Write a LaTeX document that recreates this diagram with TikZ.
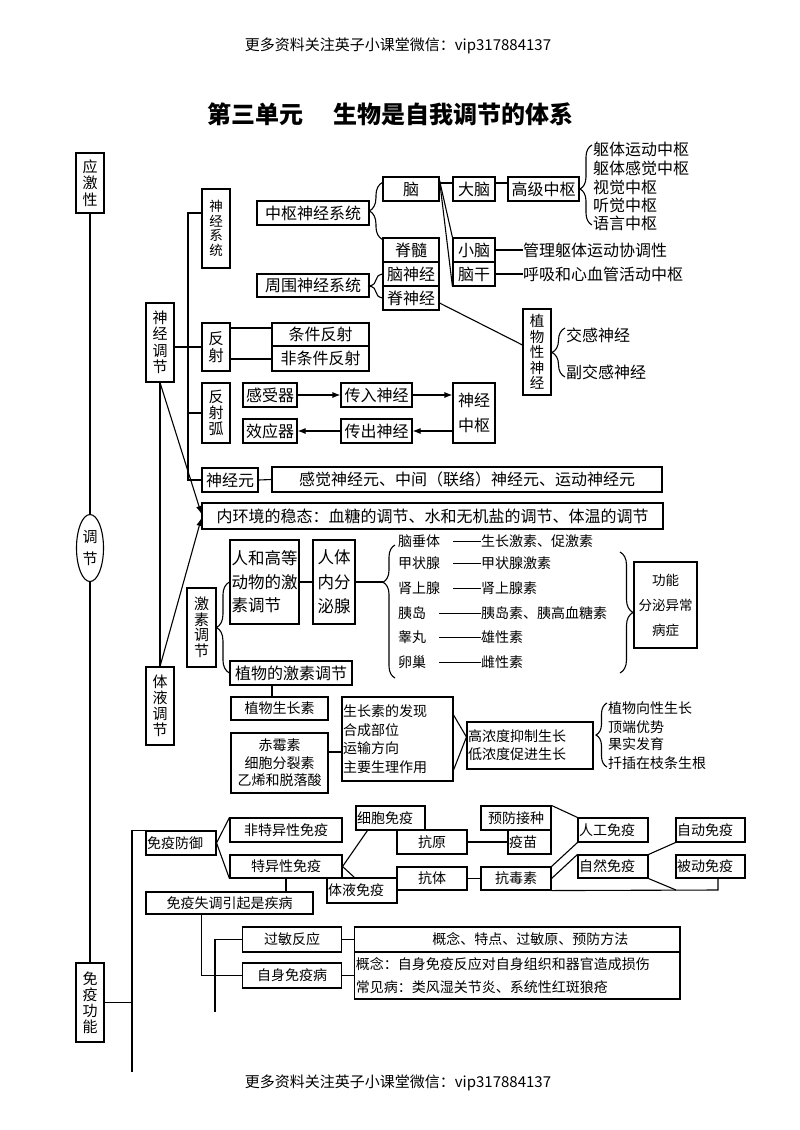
\documentclass[tikz,border=0pt]{standalone}
\usepackage{fontspec}
\setmainfont{Noto Sans CJK SC}
\usetikzlibrary{arrows.meta,decorations.pathreplacing,calc,shapes.geometric}
\newcommand{\myfs}[2]{\fontsize{#1pt}{#2pt}\selectfont}
\begin{document}
\begin{tikzpicture}[x=1pt,y=-1pt,
  box/.style={draw, line width=1.1pt, inner sep=0pt, align=center, font={\myfs{16}{18}}},
  sbox/.style={box, font={\myfs{14}{16}}},
  ln/.style={line width=1.1pt},
  txt/.style={inner sep=0pt, anchor=west, font={\myfs{16}{18}}},
  stxt/.style={inner sep=0pt, anchor=west, font={\myfs{14}{16}}},
  brc/.style={line width=1.1pt, decorate, decoration={brace, amplitude=#1}},
  arr/.style={line width=1.1pt, -{Latex[length=8pt,width=6pt]}},
]
\useasboundingbox (0,0) rectangle (800,1130);

% header / title / footer
\node[font={\myfs{15}{17}}] (hdr) at (398,46) {更多资料关注英子小课堂微信：vip317884137};
\node[font={\myfs{24}{26}\bfseries}] (title) at (390.5,114) {第三单元\hspace{30pt}生物是自我调节的体系};
\node[font={\myfs{15}{17}}] (ftr) at (398,1083) {更多资料关注英子小课堂微信：vip317884137};

% left column
\node[box, minimum width=28pt, minimum height=60pt, font={\myfs{15}{16.5}}] (yjx) at (90,183) {应\\激\\性};
\node[draw, ellipse, line width=1.1pt, minimum width=27pt, minimum height=67pt, inner sep=0pt, align=center, font={\myfs{15}{22}}] (tj) at (90,548) {调\\节};
\node[box, minimum width=28pt, minimum height=79pt, font={\myfs{15}{16}}] (myg) at (90,1002.5) {免\\疫\\功\\能};
\draw[ln] (yjx.south) -- (tj.north);
\draw[ln] (tj.south) -- (myg.north);

% nerve regulation
\node[box, minimum width=28pt, minimum height=79pt, font={\myfs{15}{16.5}}] (sjtj) at (160,342.5) {神\\经\\调\\节};
\node[box, minimum width=28pt, minimum height=78pt, font={\myfs{15}{16}}] (tytj) at (160,706) {体\\液\\调\\节};
\node[box, minimum width=28pt, minimum height=79pt, font={\myfs{13.5}{14.5}}] (sjxt) at (216,228.5) {神\\经\\系\\统};
\node[box, minimum width=28pt, minimum height=48pt, font={\myfs{15.5}{17}}] (fs) at (216,347) {反\\射};
\node[box, minimum width=28pt, minimum height=60pt, font={\myfs{15}{16}}] (fsh) at (216,413) {反\\射\\弧};
\node[box, minimum width=56pt, minimum height=24pt] (sjy) at (230,480) {神经元};
\node[box, minimum width=390pt, minimum height=25pt] (sjynr) at (467,479.5) {感觉神经元、中间（联络）神经元、运动神经元};
\node[box, minimum width=461pt, minimum height=26pt] (nhj) at (432.5,516) {内环境的稳态：血糖的调节、水和无机盐的调节、体温的调节};

\coordinate (tt) at (188,213);
\coordinate (tb) at (188,480);
\draw[ln] (tt -| sjxt.west) -- (tt) -- (tb) -- (sjy.west);
\draw[ln] (tt |- fsh.west) -- (fsh.west);
\draw[ln] (sjtj.east |- fs.west) -- (fs.west);
\draw[ln] (sjy.east) -- (sjynr.west);
\draw[ln] (sjtj.south) -- (tytj.north);
\draw[arr] (sjtj.south) -- ([yshift=2pt]nhj.west);
\draw[arr] (tytj.north) -- ([yshift=-2pt]nhj.west);

% nervous system
\node[box, minimum width=112pt, minimum height=24pt] (zsn) at (313,213) {中枢神经系统};
\node[box, minimum width=112pt, minimum height=23pt] (zwn) at (313,285.5) {周围神经系统};
\node[box, minimum width=56pt, minimum height=24pt] (nao) at (411,189) {脑};
\node[box, minimum width=56pt, minimum height=24pt] (jisui) at (411,250) {脊髓};
\node[box, minimum width=56pt, minimum height=24pt] (nsj) at (411,274) {脑神经};
\node[box, minimum width=56pt, minimum height=24pt] (jsj) at (411,298) {脊神经};
\node[box, minimum width=42pt, minimum height=24pt] (dn) at (474,189) {大脑};
\node[box, minimum width=71pt, minimum height=24pt] (gjzs) at (543.5,189) {高级中枢};
\node[box, minimum width=42pt, minimum height=24pt] (xn) at (474,250) {小脑};
\node[box, minimum width=42pt, minimum height=24pt] (ng) at (474,274) {脑干};
\node[txt] (glq) at (523,250) {管理躯体运动协调性};
\node[txt] (hxzs) at (523,274) {呼吸和心血管活动中枢};
\node[txt] (l1) at (593,149) {躯体运动中枢};
\node[txt] (l2) at (593,168) {躯体感觉中枢};
\node[txt] (l3) at (593,187) {视觉中枢};
\node[txt] (l4) at (593,205) {听觉中枢};
\node[txt] (l5) at (593,223) {语言中枢};
\node[box, minimum width=28pt, minimum height=86pt, font={\myfs{14.5}{15.5}}] (zwsj) at (537,352) {植\\物\\性\\神\\经};
\node[txt] (jgsj) at (566,335) {交感神经};
\node[txt] (fjgsj) at (566,372) {副交感神经};

\draw[brc=13pt] ([yshift=-2pt]jisui.north west) -- ([yshift=-6pt]nao.north west);
\draw[brc=13pt] (jsj.west) -- (nsj.west);
\coordinate (gb1) at (592,225); \coordinate (gb2) at (592,145);
\draw[brc=12pt, decoration={aspect=0.45}] (gb1) -- (gb2);
\coordinate (zb1) at (565,377); \coordinate (zb2) at (565,328);
\draw[brc=13pt] (zb1) -- (zb2);

\draw[ln] ([yshift=6pt]nao.east) -- ([yshift=6pt]dn.west);
\draw[ln] ([yshift=6pt]dn.east) -- ([yshift=6pt]gjzs.west);
\draw[ln] ([yshift=-4pt]nao.north east) -- (xn.north west);
\draw[ln] ([yshift=-4pt]nao.north east) -- (ng.south west);
\draw[ln] (xn.east) -- (glq.west);
\draw[ln] (ng.east) -- (hxzs.west);
\draw[ln] ([yshift=-5pt]jsj.east) -- ([yshift=7pt]zwsj.west);

% reflex
\node[box, minimum width=97pt, minimum height=23pt] (tjfs) at (320.5,334.5) {条件反射};
\node[box, minimum width=97pt, minimum height=25pt] (ftjfs) at (320.5,358.5) {非条件反射};
\draw[ln] ([yshift=19pt]fs.east) -- ([yshift=19pt]fs.east -| tjfs.west);
\draw[ln] ([yshift=-12pt]fs.east) -- ([yshift=-12pt]fs.east -| ftjfs.west);
\node[box, minimum width=54pt, minimum height=24pt] (gsq) at (270,395) {感受器};
\node[box, minimum width=54pt, minimum height=24pt] (xyq) at (270,431) {效应器};
\node[box, minimum width=71pt, minimum height=24pt] (crsj) at (376.5,395) {传入神经};
\node[box, minimum width=71pt, minimum height=24pt] (ccsj) at (376.5,431) {传出神经};
\node[box, minimum width=42pt, minimum height=60pt, font={\myfs{16}{25}}] (sjzs) at (474,413) {神经\\中枢};
\draw[arr] (gsq.east) -- (crsj.west);
\draw[arr] (crsj.east) -- (crsj.east -| sjzs.west);
\draw[arr] (ccsj.east -| sjzs.west) -- (ccsj.east);
\draw[arr] (ccsj.west) -- (xyq.east);

% hormones
\node[box, minimum width=29pt, minimum height=79pt, font={\myfs{15}{15.5}}] (jstj) at (201.5,627.5) {激\\素\\调\\节};
\node[box, minimum width=69pt, minimum height=84pt, align=left, font={\myfs{16.5}{23.5}}] (rhgd) at (264.5,582) {人和高等\\动物的激\\素调节};
\node[box, minimum width=42pt, minimum height=84pt, font={\myfs{16.5}{24.5}}] (rtnfm) at (334,582) {人体\\内分\\泌腺};
\node[box, minimum width=122pt, minimum height=24pt] (zwjs) at (291,673) {植物的激素调节};
\draw[brc=13pt] (zwjs.west) -- (rhgd.west);
\draw[ln] (rhgd.east) -- (rtnfm.west);
\coordinate (gbt) at (383,582);
\draw[ln] (rtnfm.east) -- (gbt);
\coordinate (hb1) at (395,678); \coordinate (hb2) at (395,545);
\draw[brc=12pt, decoration={aspect=0.72}] (hb1) -- (hb2);

\node[stxt] (g1) at (398,541) {脑垂体};
\node[stxt] (g2) at (398,563) {甲状腺};
\node[stxt] (g3) at (398,588) {肾上腺};
\node[stxt] (g4) at (398,613) {胰岛};
\node[stxt] (g5) at (398,637) {睾丸};
\node[stxt] (g6) at (398,662) {卵巢};
\node[stxt] (h1) at (481,541) {生长激素、促激素};
\node[stxt] (h2) at (481,563) {甲状腺激素};
\node[stxt] (h3) at (481,588) {肾上腺素};
\node[stxt] (h4) at (481,613) {胰岛素、胰高血糖素};
\node[stxt] (h5) at (481,637) {雄性素};
\node[stxt] (h6) at (481,662) {雌性素};
\foreach \i in {1,...,6} {\draw[line width=0.9pt] ([xshift=13pt]g\i.east) -- (h\i.west);}
\coordinate (rb1) at (620,552); \coordinate (rb2) at (620,673);
\draw[brc=13pt] (rb1) -- (rb2);
\node[box, minimum width=63pt, minimum height=86pt, font={\myfs{13.5}{25}}] (gnb) at (665.5,605) {功能\\分泌异常\\病症};

% plant hormones
\draw[ln] ([xshift=-19pt]zwjs.south) -- ++(0,12);
\node[sbox, minimum width=97pt, minimum height=23pt] (zwszs) at (279.5,708.5) {植物生长素};
\node[sbox, minimum width=97pt, minimum height=60pt, font={\myfs{14}{17.5}}] (cms) at (279.5,763) {赤霉素\\细胞分裂素\\乙烯和脱落酸};
\node[sbox, minimum width=111pt, minimum height=84pt, text width=109pt, align=left, font={\myfs{14}{18.5}}] (szs) at (397.5,739) {生长素的发现\\合成部位\\运输方向\\主要生理作用};
\node[sbox, minimum width=126pt, minimum height=47pt, text width=124pt, align=left, font={\myfs{14}{18}}] (gnd) at (530,745.5) {高浓度抑制生长\\低浓度促进生长};
\draw[ln] ([yshift=11pt]cms.east) -- ([yshift=11pt]cms.east -| szs.west);
\coordinate (gv) at ([yshift=8.5pt]gnd.west);
\draw[ln] ([yshift=24pt]szs.east) -- (gv) -- ([yshift=-31pt]szs.east);
\coordinate (pb1) at (607,767); \coordinate (pb2) at (607,703);
\draw[brc=11pt] (pb1) -- (pb2);
\node[stxt] (p1) at (608,708) {植物向性生长};
\node[stxt] (p2) at (608,727) {顶端优势};
\node[stxt] (p3) at (608,744) {果实发育};
\node[stxt] (p4) at (608,763) {扦插在枝条生根};

% immunity
\node[sbox, minimum width=70pt, minimum height=24pt, text width=68pt, align=left] (myfy) at (181,843) {免疫防御};
\node[sbox, minimum width=112pt, minimum height=24pt] (ftyx) at (286,830) {非特异性免疫};
\node[sbox, minimum width=112pt, minimum height=23pt] (tyx) at (286,866.5) {特异性免疫};
\node[sbox, minimum width=69pt, minimum height=24pt, text width=67pt, align=left] (xbmy) at (390.5,818) {细胞免疫};
\node[sbox, minimum width=70pt, minimum height=25pt, text width=68pt, align=left] (tymy) at (362,890.5) {体液免疫};
\node[sbox, minimum width=70pt, minimum height=24pt] (ky) at (432,842) {抗原};
\node[sbox, minimum width=70pt, minimum height=23pt] (kt) at (432,878.5) {抗体};
\node[sbox, minimum width=70pt, minimum height=24pt] (yfjz) at (516,818) {预防接种};
\node[sbox, minimum width=43pt, minimum height=24pt, text width=41pt, align=left] (ym) at (529.5,842) {疫苗};
\node[sbox, minimum width=70pt, minimum height=23pt] (kds) at (516,878.5) {抗毒素};
\node[sbox, minimum width=70pt, minimum height=24pt, text width=68pt, align=left] (rgmy) at (613,830) {人工免疫};
\node[sbox, minimum width=70pt, minimum height=23pt, text width=68pt, align=left] (zrmy) at (613,866.5) {自然免疫};
\node[sbox, minimum width=69pt, minimum height=24pt, text width=67pt, align=left] (zdmy) at (710.5,830) {自动免疫};
\node[sbox, minimum width=69pt, minimum height=23pt, text width=67pt, align=left] (bdmy) at (710.5,866.5) {被动免疫};
\node[sbox, minimum width=167pt, minimum height=22pt] (mysd) at (229.5,903) {免疫失调引起是疾病};
\node[sbox, minimum width=98.5pt, minimum height=25pt] (gmfy) at (292,939.5) {过敏反应};
\node[sbox, minimum width=98.5pt, minimum height=25pt] (zsmy) at (292,975.5) {自身免疫病};
\node[sbox, minimum width=325.4pt, minimum height=25pt] (nr1) at (517.3,939.5) {\hspace{26pt}概念、特点、过敏原、预防方法};
\node[sbox, minimum width=325.4pt, minimum height=47pt, text width=323pt, align=left, font={\myfs{14}{23}}] (nr2) at (517.3,975.5) {概念：自身免疫反应对自身组织和器官造成损伤\\常见病：类风湿关节炎、系统性红斑狼疮};

\coordinate (t2b) at (132,1072);
\draw[ln] (myfy.north west) -- (myfy.north west -| t2b) -- (t2b);
\draw[ln] (myg.east) -- (myg.east -| t2b);
\draw[ln] (myfy.east) -- (ftyx.north west);
\draw[ln] (myfy.east) -- (tyx.south west);
\draw[ln] (tyx.east) -- ([xshift=12pt]xbmy.south west);
\draw[ln] (tyx.east) -- ([xshift=28pt]tymy.north west);
\draw[ln] (ky.east) -- (ym.west);
\draw[ln] (kt.east) -- (kds.west);
\draw[ln] (yfjz.north east) -- (rgmy.north west);
\draw[ln] (kds.north east) -- (rgmy.south west);
\draw[ln] (kds.east) -- (zrmy.north west);
\draw[ln] (zrmy.north east) -- (zdmy.south west);
\coordinate (bl) at (718,890);
\coordinate (bm) at (676,890);
\draw[ln] (kds.south east) -- (bl) -- (bl |- bdmy.south);
\draw[ln] (zrmy.south east) -- (bm);
\draw[ln] (tyx.south) -- (tyx.south |- mysd.north);
\draw[ln] ([xshift=-28pt]mysd.south) |- (zsmy.west);
\coordinate (v2) at (215,1012);
\draw[ln] (v2) |- (gmfy.west);
\draw[ln] (gmfy.east) -- (nr1.west);
\draw[ln] (zsmy.east) -- (nr2.west);
\end{tikzpicture}
\end{document}
